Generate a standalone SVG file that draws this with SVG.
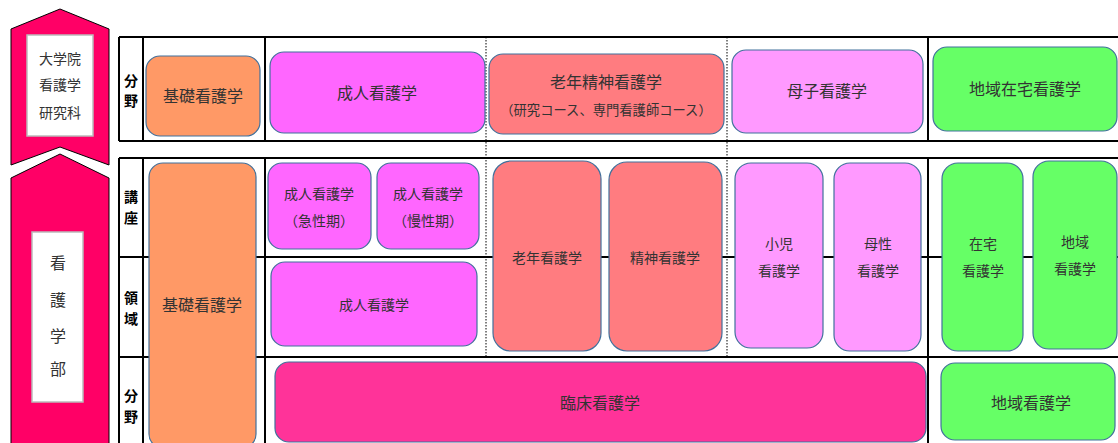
<svg xmlns="http://www.w3.org/2000/svg" width="1118" height="443" viewBox="0 0 1118 443">
<style>
text{font-family:"Noto Sans CJK JP","Noto Sans",sans-serif;fill:#333;text-anchor:middle;dominant-baseline:central}
.b{stroke:#41719C;stroke-width:1.2}
.or{fill:#FF9966}.ad{fill:#FF66FF}.sa{fill:#FF7C80}.pk{fill:#FF99FF}.gr{fill:#66FF66}.mg{fill:#FF3399}
.t16{font-size:16px}.t14{font-size:14px}.t12{font-size:13.3px}
.lb{font-size:14px;font-weight:bold;fill:#000}
.ln{stroke:#000;stroke-width:2;fill:none}
.ds{stroke:#000;stroke-width:1;stroke-dasharray:1.5 1.5;fill:none}
</style>
<rect width="1118" height="443" fill="#fff"/>
<g id="arrows">
<polygon points="11,29 60,9 109,29 109,165 60,147 11,165" fill="#FF0066" stroke="#000" stroke-width="1"/>
<polygon points="11,178 60,154 109,178 109,450 11,450" fill="#FF0066" stroke="#000" stroke-width="1"/>
<rect x="27" y="35" width="66" height="101" fill="#fff" stroke="#bbb" stroke-width="1.5"/>
<text class="t14" x="60" y="58">大学院</text>
<text class="t14" x="60" y="84">看護学</text>
<text class="t14" x="60" y="112">研究科</text>
<rect x="32" y="232" width="51" height="170" fill="#fff" stroke="#bbb" stroke-width="1.5"/>
<text class="t16" x="58" y="262">看</text>
<text class="t16" x="58" y="299">護</text>
<text class="t16" x="58" y="335">学</text>
<text class="t16" x="58" y="368">部</text>
</g>
<g id="grid">
<path class="ln" d="M119,37H1118M119,141H1118M119,37V141M143,37V141M265,37V141M928,37V141"/>
<path class="ln" d="M119,158H1118M119,257H1118M119,357H1118M119,158V443M143,158V443M265,158V443M928,158V443"/>
<path class="ds" d="M486,37V357M727,37V357"/>
<text class="lb" x="131" y="80">分</text>
<text class="lb" x="131" y="100">野</text>
<text class="lb" x="131" y="196">講</text>
<text class="lb" x="131" y="217">座</text>
<text class="lb" x="131" y="297">領</text>
<text class="lb" x="131" y="318">域</text>
<text class="lb" x="131" y="395">分</text>
<text class="lb" x="131" y="416">野</text>
</g>
<g id="g-kiso"><rect class="b or" x="146" y="56" width="114" height="80" rx="14"/><text class="t16" x="203" y="95">基礎看護学</text></g>
<g id="g-seijin"><rect class="b ad" x="270" y="52" width="215" height="81" rx="14"/><text class="t16" x="377" y="92">成人看護学</text></g>
<g id="g-rounen"><rect class="b sa" x="489" y="54" width="235" height="80" rx="14"/><text class="t16" x="606" y="81">老年精神看護学</text><text class="t12" x="606" y="109">（研究コース、専門看護師コース）</text></g>
<g id="g-boshi"><rect class="b pk" x="732" y="50" width="191" height="83" rx="14"/><text class="t16" x="827" y="90">母子看護学</text></g>
<g id="g-chiiki"><rect class="b gr" x="933" y="47" width="184" height="84" rx="14"/><text class="t16" x="1025" y="88">地域在宅看護学</text></g>
<g id="u-kiso"><rect class="b or" x="149" y="163" width="107" height="285" rx="14"/><text class="t16" x="202" y="304">基礎看護学</text></g>
<g id="u-kyusei"><rect class="b ad" x="268" y="163" width="103" height="86" rx="14"/><text class="t14" x="319" y="193">成人看護学</text><text class="t14" x="319" y="220">（急性期）</text></g>
<g id="u-mansei"><rect class="b ad" x="377" y="163" width="102" height="86" rx="14"/><text class="t14" x="428" y="193">成人看護学</text><text class="t14" x="428" y="220">（慢性期）</text></g>
<g id="u-seijin"><rect class="b ad" x="271" y="262" width="206" height="84" rx="14"/><text class="t14" x="374" y="304">成人看護学</text></g>
<g id="u-rounen"><rect class="b sa" x="493" y="161" width="108" height="190" rx="18"/><text class="t14" x="547" y="257">老年看護学</text></g>
<g id="u-seishin"><rect class="b sa" x="609" y="162" width="113" height="189" rx="18"/><text class="t14" x="665" y="257">精神看護学</text></g>
<g id="u-shoni"><rect class="b pk" x="735" y="163" width="88" height="185" rx="16"/><text class="t14" x="779" y="243">小児</text><text class="t14" x="779" y="270">看護学</text></g>
<g id="u-bosei"><rect class="b pk" x="834" y="163" width="87" height="188" rx="16"/><text class="t14" x="878" y="243">母性</text><text class="t14" x="878" y="270">看護学</text></g>
<g id="u-zaitaku"><rect class="b gr" x="942" y="163" width="81" height="188" rx="16"/><text class="t14" x="983" y="243">在宅</text><text class="t14" x="983" y="270">看護学</text></g>
<g id="u-chiiki"><rect class="b gr" x="1033" y="161" width="84" height="188" rx="16"/><text class="t14" x="1075" y="241">地域</text><text class="t14" x="1075" y="268">看護学</text></g>
<g id="u-rinsho"><rect class="b mg" x="275" y="362" width="651" height="80" rx="14"/><text class="t16" x="600" y="402">臨床看護学</text></g>
<g id="u-chiiki2"><rect class="b gr" x="941" y="363" width="174" height="77" rx="14"/><text class="t16" x="1031" y="402">地域看護学</text></g>
</svg>
